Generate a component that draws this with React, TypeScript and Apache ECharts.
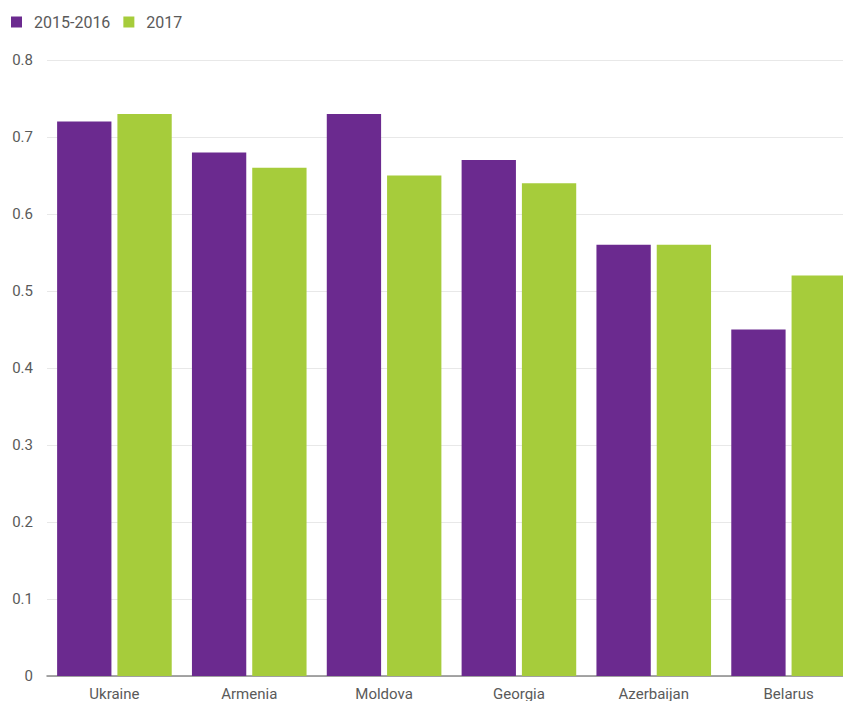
import React, { useEffect, useRef } from "react";
import * as echarts from "echarts";

const categories = ["Ukraine", "Armenia", "Moldova", "Georgia", "Azerbaijan", "Belarus"];
const series2015 = [0.72, 0.68, 0.73, 0.67, 0.56, 0.45];
const series2017 = [0.73, 0.66, 0.65, 0.64, 0.56, 0.52];
const seriesNames = ["2015-2016", "2017"];

export default function App() {
  const ref = useRef<HTMLDivElement>(null);
  useEffect(() => {
    if (!ref.current) return;
    const chart = echarts.init(ref.current, undefined, { renderer: "svg" });
    chart.setOption({
      animation: false,
      textStyle: { fontFamily: "Roboto" },
      legend: {
        left: 6,
        top: 9,
        itemWidth: 11,
        itemHeight: 11,
        itemGap: 13,
        icon: "rect",
        textStyle: { color: "#5a5a5a", fontSize: 16, fontFamily: "Roboto", padding: [0, 0, 0, 7] },
        data: seriesNames,
      },
      grid: { left: 47, top: 60, right: 0, bottom: 25, containLabel: false },
      xAxis: {
        type: "category",
        data: categories,
        axisTick: { show: false },
        axisLine: { lineStyle: { color: "#888", width: 1.5 } },
        axisLabel: { color: "#5a5a5a", fontSize: 15, margin: 10 },
      },
      yAxis: {
        type: "value",
        min: 0,
        max: 0.8,
        interval: 0.1,
        axisLabel: { color: "#5a5a5a", fontSize: 15, margin: 14 },
        splitLine: { lineStyle: { color: "#e8e8e8" } },
        axisLine: { show: false },
        axisTick: { show: false },
      },
      series: [
        {
          name: seriesNames[0],
          type: "bar",
          data: series2015,
          itemStyle: { color: "#6b2a8f" },
          barGap: "11%",
          barCategoryGap: "15%",
        },
        {
          name: seriesNames[1],
          type: "bar",
          data: series2017,
          itemStyle: { color: "#a6cc3b" },
          barGap: "11%",
          barCategoryGap: "15%",
        },
      ],
    });
    return () => chart.dispose();
  }, []);
  return (
    <div style={{ position: "fixed", left: 0, top: 0, width: 843, height: 701, overflow: "hidden", background: "#fff" }}>
      <div ref={ref} style={{ width: 856, height: 701 }} />
    </div>
  );
}
